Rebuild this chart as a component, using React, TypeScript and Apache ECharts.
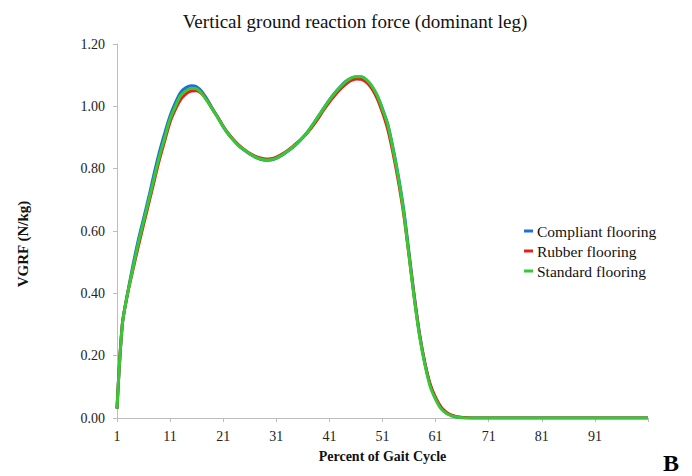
import React, { useEffect, useRef } from "react";
import * as echarts from "echarts";

const gaitPercent: string[] = [];
for (let i = 1; i <= 101; i++) gaitPercent.push(String(i));

const compliant = [
  0.03, 0.30, 0.40, 0.49, 0.57, 0.64, 0.71, 0.785, 0.855, 0.915,
  0.97, 1.012, 1.045, 1.06, 1.066, 1.063, 1.047, 1.022, 0.992, 0.965,
  0.935, 0.91, 0.89, 0.872, 0.859, 0.847, 0.837, 0.83, 0.827, 0.828,
  0.833, 0.842, 0.854, 0.867, 0.882, 0.90, 0.92, 0.945, 0.97, 0.996,
  1.021, 1.043, 1.062, 1.079, 1.09, 1.094, 1.094, 1.084, 1.064, 1.034,
  0.992, 0.942, 0.865, 0.775, 0.668, 0.53, 0.39, 0.268, 0.175, 0.105,
  0.062, 0.033, 0.016, 0.008, 0.003, 0.001, 0, 0, 0, 0,
  0, 0, 0, 0, 0, 0, 0, 0, 0, 0,
  0, 0, 0, 0, 0, 0, 0, 0, 0, 0,
  0, 0, 0, 0, 0, 0, 0, 0, 0, 0,
  0,
];

const rubber = [
  0.03, 0.30, 0.40, 0.475, 0.55, 0.62, 0.69, 0.76, 0.83, 0.89,
  0.95, 0.99, 1.022, 1.04, 1.049, 1.05, 1.04, 1.018, 0.99, 0.964,
  0.936, 0.912, 0.892, 0.875, 0.861, 0.849, 0.84, 0.834, 0.831, 0.832,
  0.837, 0.846, 0.857, 0.87, 0.884, 0.90, 0.918, 0.94, 0.964, 0.99,
  1.014, 1.035, 1.054, 1.07, 1.082, 1.088, 1.087, 1.077, 1.057, 1.025,
  0.98, 0.925, 0.848, 0.758, 0.652, 0.52, 0.385, 0.265, 0.175, 0.108,
  0.066, 0.036, 0.019, 0.009, 0.004, 0.002, 0.001, 0, 0, 0,
  0, 0, 0, 0, 0, 0, 0, 0, 0, 0,
  0, 0, 0, 0, 0, 0, 0, 0, 0, 0,
  0, 0, 0, 0, 0, 0, 0, 0, 0, 0,
  0,
];

const standard = [
  0.03, 0.30, 0.40, 0.48, 0.56, 0.63, 0.70, 0.77, 0.84, 0.90,
  0.96, 1.00, 1.035, 1.05, 1.058, 1.056, 1.04, 1.017, 0.99, 0.963,
  0.935, 0.91, 0.89, 0.872, 0.86, 0.848, 0.838, 0.831, 0.828, 0.829,
  0.834, 0.843, 0.855, 0.868, 0.883, 0.90, 0.92, 0.945, 0.97, 0.995,
  1.02, 1.042, 1.061, 1.078, 1.09, 1.095, 1.095, 1.085, 1.065, 1.035,
  0.99, 0.94, 0.86, 0.77, 0.66, 0.52, 0.38, 0.26, 0.17, 0.10,
  0.06, 0.03, 0.015, 0.007, 0.003, 0.001, 0, 0, 0, 0,
  0, 0, 0, 0, 0, 0, 0, 0, 0, 0,
  0, 0, 0, 0, 0, 0, 0, 0, 0, 0,
  0, 0, 0, 0, 0, 0, 0, 0, 0, 0,
  0,
];

const seriesNames = ["Compliant flooring", "Rubber flooring", "Standard flooring"];
const seriesColors = ["#1f6fd6", "#e3201b", "#35c935"];

const SERIF = "'Liberation Serif', 'Times New Roman', serif";

export default function App() {
  const ref = useRef<HTMLDivElement>(null);

  useEffect(() => {
    if (!ref.current) return;
    const chart = echarts.init(ref.current, undefined, { renderer: "svg" });
    const datasets = [compliant, rubber, standard];
    chart.setOption({
      animation: false,
      backgroundColor: "#ffffff",
      grid: { left: 117, right: 44, top: 44, bottom: 58, containLabel: false },
      graphic: [
        {
          type: "text",
          x: 355,
          y: 21,
          style: {
            text: "Vertical ground reaction force (dominant leg)",
            font: `19px ${SERIF}`,
            fill: "#111",
            textAlign: "center",
            textVerticalAlign: "middle",
          },
        },
        {
          type: "text",
          x: 23,
          y: 244,
          rotation: Math.PI / 2,
          style: {
            text: "VGRF (N/kg)",
            font: `bold 15px ${SERIF}`,
            fill: "#111",
            textAlign: "center",
            textVerticalAlign: "middle",
          },
        },
        {
          type: "text",
          x: 671,
          y: 463,
          style: {
            text: "B",
            font: `bold 24px ${SERIF}`,
            fill: "#000",
            textAlign: "center",
            textVerticalAlign: "middle",
          },
        },
      ],
      legend: {
        orient: "vertical",
        left: 524,
        top: 223,
        padding: 0,
        icon: "rect",
        itemWidth: 9,
        itemHeight: 3,
        itemGap: 4,
        data: seriesNames,
        textStyle: { fontFamily: SERIF, fontSize: 15.5, color: "#111", padding: [0, 0, 0, -1] },
      },
      xAxis: {
        type: "category",
        data: gaitPercent,
        boundaryGap: false,
        name: "Percent of Gait Cycle",
        nameLocation: "middle",
        nameGap: 31,
        nameTextStyle: { fontFamily: SERIF, fontSize: 14, fontWeight: "bold", color: "#111" },
        axisLine: { show: true, lineStyle: { color: "#bdbdbd", width: 1 } },
        axisTick: {
          show: true,
          length: 4,
          interval: (i: number) => i % 10 === 0,
          lineStyle: { color: "#bdbdbd" },
        },
        axisLabel: {
          interval: (i: number) => i % 10 === 0 && i < 100,
          margin: 11,
          fontFamily: SERIF,
          fontSize: 14,
          color: "#222",
        },
        splitLine: { show: false },
      },
      yAxis: {
        type: "value",
        min: 0,
        max: 1.2,
        interval: 0.2,
        axisLine: { show: true, lineStyle: { color: "#bdbdbd", width: 1 } },
        axisTick: { show: true, length: 4, lineStyle: { color: "#bdbdbd" } },
        axisLabel: {
          margin: 12,
          fontFamily: SERIF,
          fontSize: 14,
          color: "#222",
          formatter: (v: number) => v.toFixed(2),
        },
        splitLine: { show: false },
      },
      series: seriesNames.map((name, k) => ({
        name,
        type: "line",
        data: datasets[k],
        smooth: 0.3,
        showSymbol: false,
        symbol: "none",
        lineStyle: { color: seriesColors[k], width: 3 },
        itemStyle: { color: seriesColors[k] },
      })),
    });
    return () => chart.dispose();
  }, []);

  return (
    <div
      ref={ref}
      style={{ position: "fixed", left: 0, top: 0, width: 692, height: 476, background: "#fff" }}
    />
  );
}
